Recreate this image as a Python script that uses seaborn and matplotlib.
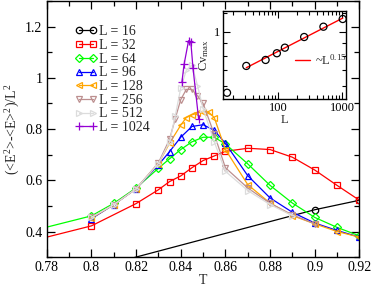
import numpy as np
import pandas as pd
import matplotlib
matplotlib.use("Agg")
import matplotlib.pyplot as plt
import seaborn as sns
from matplotlib.ticker import MultipleLocator, FixedLocator, NullFormatter, FixedFormatter

sns.set_theme(style="ticks")
plt.rcParams['font.family'] = ['Liberation Serif', 'DejaVu Serif']
plt.rcParams['mathtext.fontset'] = 'custom'
plt.rcParams['mathtext.rm'] = 'Liberation Serif'
plt.rcParams['mathtext.it'] = 'Liberation Serif:italic'
plt.rcParams['mathtext.bf'] = 'Liberation Serif:bold'

# ---------------- data ----------------
series_labels = ["L = 16", "L = 32", "L = 64", "L = 96", "L = 128", "L = 256", "L = 512", "L = 1024"]

T_16 = [0.80, 0.90, 0.92]
C_16 = [0.254, 0.485, 0.522]

T_32 = [0.76, 0.80, 0.82, 0.83, 0.835, 0.84, 0.845, 0.85, 0.855, 0.86, 0.87, 0.88, 0.89, 0.90, 0.91, 0.92]
C_32 = [0.334, 0.422, 0.509, 0.563, 0.595, 0.617, 0.649, 0.677, 0.695, 0.713, 0.725, 0.720, 0.690, 0.640, 0.580, 0.522]

T_64 = [0.76, 0.80, 0.81, 0.82, 0.83, 0.835, 0.84, 0.845, 0.85, 0.855, 0.86, 0.87, 0.88, 0.89, 0.90, 0.91, 0.92]
C_64 = [0.373, 0.461, 0.510, 0.570, 0.647, 0.684, 0.720, 0.750, 0.768, 0.768, 0.742, 0.664, 0.580, 0.511, 0.455, 0.416, 0.383]

T_96 = [0.80, 0.81, 0.82, 0.83, 0.835, 0.84, 0.845, 0.85, 0.855, 0.86, 0.87, 0.88, 0.89, 0.90, 0.91, 0.92]
C_96 = [0.450, 0.505, 0.567, 0.660, 0.712, 0.768, 0.810, 0.817, 0.795, 0.744, 0.618, 0.531, 0.475, 0.433, 0.404, 0.378]

T_128 = [0.80, 0.81, 0.82, 0.83, 0.835, 0.84, 0.8425, 0.845, 0.8475, 0.85, 0.8525, 0.855, 0.86, 0.87, 0.88, 0.89, 0.90, 0.91, 0.92]
C_128 = [0.452, 0.505, 0.567, 0.665, 0.745, 0.815, 0.845, 0.855, 0.863, 0.868, 0.866, 0.845, 0.720, 0.583, 0.511, 0.462, 0.430, 0.400, 0.378]

T_256 = [0.80, 0.81, 0.82, 0.83, 0.835, 0.8375, 0.84, 0.8425, 0.845, 0.8475, 0.85, 0.855, 0.86, 0.87, 0.88, 0.89, 0.90]
C_256 = [0.455, 0.505, 0.567, 0.668, 0.760, 0.840, 0.915, 0.955, 0.955, 0.930, 0.900, 0.780, 0.649, 0.570, 0.510, 0.465, 0.430]

T_512 = [0.80, 0.81, 0.82, 0.83, 0.835, 0.8375, 0.84, 0.8425, 0.845, 0.8475, 0.85, 0.855, 0.86, 0.87, 0.88, 0.89]
C_512 = [0.455, 0.505, 0.567, 0.665, 0.750, 0.850, 0.960, 1.030, 1.050, 0.970, 0.880, 0.750, 0.635, 0.560, 0.505, 0.462]

T_1024 = [0.8405, 0.8415, 0.8435, 0.8445, 0.8455, 0.848]
C_1024 = [0.982, 1.053, 1.145, 1.141, 1.037, 0.840]

# inset: peak heights vs L
L_sizes = [16, 32, 64, 96, 128, 256, 512, 1024]
Cv_max = [0.565, 0.727, 0.769, 0.819, 0.863, 0.954, 1.051, 1.130]
fit_label = "~L$^{0.15}$"

# ---------------- style ----------------
colors = ["#000000", "#ff0000", "#00ff00", "#0000ff", "#ffa500", "#bc8f8f", "#dcdcdc", "#9400d3"]
markers = ["o", "s", "D", "^", "<", "v", ">", "+"]
msizes = [4.6, 4.4, 3.8, 4.6, 4.6, 4.6, 4.6, 6]

T_all = [T_16, T_32, T_64, T_96, T_128, T_256, T_512, T_1024]
C_all = [C_16, C_32, C_64, C_96, C_128, C_256, C_512, C_1024]

fig = plt.figure(figsize=(3.74, 2.86), dpi=100)
ax = fig.add_axes([0.125, 0.101, 0.836, 0.8955])

for lab, T, C, col, mk, ms in zip(series_labels, T_all, C_all, colors, markers, msizes):
    df = pd.DataFrame({"T": T, "C": C})
    sns.lineplot(data=df, x="T", y="C", ax=ax, estimator=None, sort=False,
                 color=col, marker=mk, markersize=ms, markerfacecolor="none",
                 markeredgecolor=col, markeredgewidth=0.9, lw=0.9, label=lab,
                 legend=False, clip_on=True)

ax.set_xlim(0.78, 0.92)
ax.set_ylim(0.3, 1.3)
ax.xaxis.set_major_locator(FixedLocator([0.78, 0.80, 0.82, 0.84, 0.86, 0.88, 0.90, 0.92]))
ax.xaxis.set_major_formatter(FixedFormatter(["0.78", "0.8", "0.82", "0.84", "0.86", "0.88", "0.9", "0.92"]))
ax.xaxis.set_minor_locator(MultipleLocator(0.01))
ax.yaxis.set_major_locator(FixedLocator([0.4, 0.6, 0.8, 1.0, 1.2]))
ax.yaxis.set_major_formatter(FixedFormatter(["0.4", "0.6", "0.8", "1", "1.2"]))
ax.yaxis.set_minor_locator(MultipleLocator(0.1))
ax.tick_params(which="both", direction="in", top=True, right=True, labelsize=10, colors="black", width=0.9)
ax.tick_params(which="major", length=6, pad=3)
ax.tick_params(which="minor", length=3.5)
for s in ax.spines.values():
    s.set_linewidth(1.0)
    s.set_color("black")
ax.set_xlabel("T", fontsize=10, labelpad=0)
ax.set_ylabel("(<E$^2$>-<E>$^2$)/L$^2$", fontsize=10, labelpad=2)

ax.legend(loc="upper left", bbox_to_anchor=(0.09, 0.905), frameon=False, numpoints=2,
          handlelength=1.6, handletextpad=0.1, labelspacing=0.05, fontsize=10,
          borderpad=0, borderaxespad=0)

# ---------------- inset ----------------
axin = fig.add_axes([0.596, 0.654, 0.329, 0.3075])
dfi = pd.DataFrame({"L": L_sizes, "Cv": Cv_max})
sns.scatterplot(data=dfi, x="L", y="Cv", ax=axin, marker="o", s=26,
                facecolors="none", edgecolor="black", linewidth=0.9, legend=False, zorder=3)
coef = np.polyfit(np.log10(L_sizes[1:]), np.log10(Cv_max[1:]), 1)
L_fit = np.array([L_sizes[1], L_sizes[-1]], dtype=float)
dff = pd.DataFrame({"L": L_fit, "Cv": 10 ** np.polyval(coef, np.log10(L_fit))})
sns.lineplot(data=dff, x="L", y="Cv", ax=axin, color="red", lw=1.0, label=fit_label, legend=False)
axin.set_xscale("log")
axin.set_yscale("log")
axin.set_xlim(13.8, 1150)
axin.set_ylim(0.533, 1.218)
axin.xaxis.set_major_locator(FixedLocator([100, 1000]))
axin.xaxis.set_major_formatter(FixedFormatter(["100", "1000"]))
axin.xaxis.set_minor_locator(FixedLocator([20, 30, 40, 50, 60, 70, 80, 90, 200, 300, 400, 500, 600, 700, 800, 900]))
axin.xaxis.set_minor_formatter(NullFormatter())
axin.yaxis.set_major_locator(FixedLocator([1.0]))
axin.yaxis.set_major_formatter(FixedFormatter(["1"]))
axin.yaxis.set_minor_locator(FixedLocator([0.6, 0.7, 0.8, 0.9, 1.2]))
axin.yaxis.set_minor_formatter(NullFormatter())
axin.tick_params(which="both", direction="in", top=True, right=True, labelsize=9, colors="black", width=0.8)
axin.tick_params(which="major", length=5, pad=2)
axin.tick_params(which="minor", length=3)
for s in axin.spines.values():
    s.set_linewidth(1.0)
    s.set_color("black")
axin.set_xlabel("L", fontsize=9, labelpad=0)
axin.set_ylabel("Cv$_{\\rm max}$", fontsize=9, labelpad=2)
axin.legend(loc="center left", bbox_to_anchor=(0.585, 0.443), frameon=False,
            handlelength=1.2, handletextpad=0.4, fontsize=9, borderpad=0, borderaxespad=0)

fig.savefig("out.png", dpi=100)
